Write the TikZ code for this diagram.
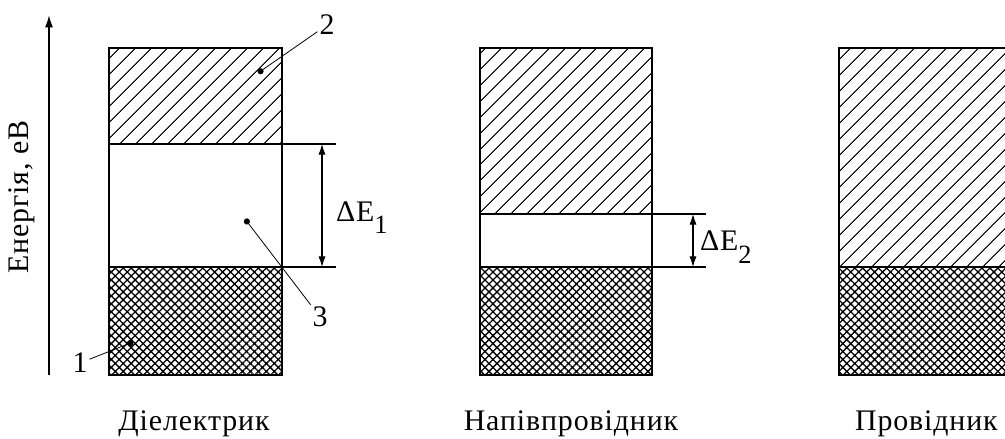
\documentclass[tikz,border=0pt]{standalone}
\usepackage{fontspec}
\setmainfont[LetterSpace=3]{Liberation Serif}
\usetikzlibrary{arrows.meta, patterns.meta}

\begin{document}
\begin{tikzpicture}[
        x=0.02cm, y=-0.02cm,
        >=Latex,
        every node/.style={font=\fontsize{17}{20}\selectfont, inner sep=1pt},
        band/.style={line width=1.1pt},
        cband/.style={band, pattern={Lines[angle=45, distance=6.4pt, line width=0.6pt]}},
        vband/.style={band, pattern={Hatch[angle=45, distance=3.2pt, line width=0.75pt]}},
        guide/.style={line width=0.6pt},
        dim/.style={guide, {Latex[length=6pt,width=4pt]}-{Latex[length=6pt,width=4pt]}},
        axis/.style={line width=0.9pt, -{Latex[length=7pt,width=4.5pt]}},
        lead/.style={line width=0.45pt, -{Circle[length=3.5pt]}}
    ]
        \fill[white] (0,0) rectangle (1005,439);
        \useasboundingbox (0,0) rectangle (1005,439);

        % energy axis
        \coordinate (ax0) at (49,375);
        \coordinate (ax1) at (49,15);
        \draw[axis] (ax0) -- (ax1);
        \node[rotate=90] (axlabel) at (22,197) {Енергія, еВ};

        % dielectric
        \draw[cband] (109,48) rectangle (282,144);
        \draw[band] (109,144) rectangle (282,267);
        \draw[vband] (109,267) rectangle (282,375);
        \coordinate (d1a) at (282,144);
        \coordinate (d1b) at (282,267);
        \coordinate (d1c) at (336,144);
        \coordinate (d1d) at (336,267);
        \coordinate (d1e) at (322,144);
        \coordinate (d1f) at (322,267);
        \draw[guide] (d1a) -- (d1c) (d1b) -- (d1d);
        \draw[dim] (d1e) -- (d1f);
        \node[anchor=base west] (gap1) at (334,221) {ΔE\raisebox{-7pt}{\fontsize{15}{15}\selectfont 1}};

        \node (n1) at (80,363) {1};
        \node (n2) at (327,25) {2};
        \node (n3) at (320,317) {3};
        \coordinate (p1) at (133,342);
        \coordinate (p2) at (258,73);
        \coordinate (p3) at (245,219);
        \draw[lead] (n1) -- (p1);
        \draw[lead] (n2) -- (p2);
        \draw[lead] (n3) -- (p3);

        % semiconductor
        \draw[cband] (480,48) rectangle (652,214);
        \draw[band] (480,214) rectangle (652,267);
        \draw[vband] (480,267) rectangle (652,375);
        \coordinate (d2a) at (652,214);
        \coordinate (d2b) at (652,267);
        \coordinate (d2c) at (706,214);
        \coordinate (d2d) at (706,267);
        \coordinate (d2e) at (693,214);
        \coordinate (d2f) at (693,267);
        \draw[guide] (d2a) -- (d2c) (d2b) -- (d2d);
        \draw[dim] (d2e) -- (d2f);
        \node[anchor=base west] (gap2) at (698,251) {ΔE\raisebox{-7pt}{\fontsize{15}{15}\selectfont 2}};

        % conductor
        \draw[cband] (839,48) rectangle (1011,267);
        \draw[vband] (839,267) rectangle (1011,375);

        \node[anchor=base] (lbl1) at (194,430) {Діелектрик};
        \node[anchor=base] (lbl2) at (571,430) {Напівпровідник};
        \node[anchor=base west] (lbl3) at (853,430) {Провідник};
    \end{tikzpicture}
\end{document}
